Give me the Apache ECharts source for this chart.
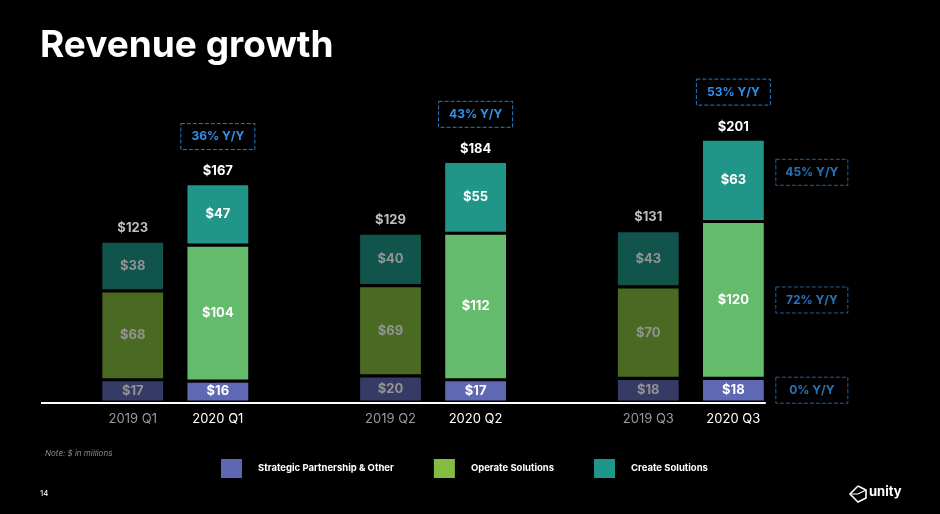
<!doctype html>
<html>
<head>
<meta charset="UTF-8">
<title>Revenue growth</title>
<script src="https://cdn.jsdelivr.net/npm/echarts@6/dist/echarts.min.js"></script>
<style>
  html, body { margin: 0; padding: 0; background: #000; }
  #main { width: 940px; height: 514px; }
</style>
</head>
<body>
<div id="main"></div>
<script>
// quarters (one category per quarter, 2019 and 2020 side by side)
var quarters = ['Q1', 'Q2', 'Q3'];
var years = ['2019', '2020'];

// revenue, $ in millions
var strategic2019 = [17, 20, 18];
var operate2019 = [68, 69, 70];
var create2019 = [38, 40, 43];
var strategic2020 = [16, 17, 18];
var operate2020 = [104, 112, 120];
var create2020 = [47, 55, 63];

// growth callouts
var totalYoY = ['36%', '43%', '53%'];
var q3SegmentYoY = { strategic: '0%', operate: '72%', create: '45%' };

var names = ['Strategic Partnership & Other', 'Operate Solutions', 'Create Solutions'];
var legendColors = ['#5f66b3', '#82bd41', '#1e978a'];
var colors2019 = ['#363b66', '#4a6a24', '#11544c'];
var colors2020 = ['#5f68b4', '#64bb6b', '#1f9688'];

var FONT = 'Inter, Roboto, sans-serif';
var BLUE = '#3190ea';

function sum(i, a, b, c) { return a[i] + b[i] + c[i]; }

function segment(name, data, stack, color, labelColor) {
    return {
        name: name,
        type: 'bar',
        stack: stack,
        barWidth: 64,
        barGap: '33%',
        data: data,
        itemStyle: { color: color, borderColor: '#000', borderWidth: 1.6 },
        label: {
            show: true,
            position: 'inside',
            color: labelColor,
            fontFamily: FONT,
            fontWeight: 'bold',
            fontSize: 13,
            formatter: function (p) { return '$' + p.value; }
        },
        emphasis: { disabled: true }
    };
}

var boxStyle = {
    color: BLUE,
    fontFamily: FONT,
    fontWeight: 'bold',
    fontSize: 12,
    width: 74,
    height: 26,
    align: 'center',
    borderColor: '#2b7bc4',
    borderWidth: 1,
    borderType: 'dashed'
};

var myChart = echarts.init(document.getElementById('main'));

var series = [
    segment(names[0], strategic2019, '2019', colors2019[0], '#939393'),
    segment(names[1], operate2019, '2019', colors2019[1], '#939393'),
    segment(names[2], create2019, '2019', colors2019[2], '#939393'),
    {
        name: 'total2019', type: 'bar', stack: '2019', barWidth: 64, barGap: '33%',
        data: quarters.map(function () { return 0; }),
        itemStyle: { color: 'transparent', borderWidth: 0 },
        label: {
            show: true, position: 'top', distance: 7,
            color: '#bdbdbd', fontFamily: FONT, fontWeight: 'bold', fontSize: 13,
            formatter: function (p) { return '$' + sum(p.dataIndex, strategic2019, operate2019, create2019); }
        },
        emphasis: { disabled: true }
    },
    segment(names[0], strategic2020, '2020', colors2020[0], '#ffffff'),
    segment(names[1], operate2020, '2020', colors2020[1], '#ffffff'),
    segment(names[2], create2020, '2020', colors2020[2], '#ffffff'),
    {
        name: 'total2020', type: 'bar', stack: '2020', barWidth: 64, barGap: '33%',
        data: quarters.map(function () { return 0; }),
        itemStyle: { color: 'transparent', borderWidth: 0 },
        label: {
            show: true, position: 'top', distance: 16,
            formatter: function (p) {
                return '{box|' + totalYoY[p.dataIndex] + ' Y/Y}\n{tot|$' +
                    sum(p.dataIndex, strategic2020, operate2020, create2020) + '}';
            },
            rich: {
                box: boxStyle,
                tot: { color: '#fff', fontFamily: FONT, fontWeight: 'bold', fontSize: 13, lineHeight: 18, padding: [26, 0, 0, 0] }
            }
        },
        emphasis: { disabled: true }
    },
    {
        // Q3 2020 segment growth callouts, placed beside each segment
        name: 'q3yoy', type: 'scatter', symbolSize: 0, silent: true,
        data: [
            { value: [2, strategic2020[2] / 2], yoy: q3SegmentYoY.strategic },
            { value: [2, strategic2020[2] + operate2020[2] / 2], yoy: q3SegmentYoY.operate },
            { value: [2, strategic2020[2] + operate2020[2] + create2020[2] / 2], yoy: q3SegmentYoY.create, label: { offset: [121, -8] } }
        ],
        label: {
            show: true, position: 'inside', offset: [121, 0],
            formatter: function (p) { return '{box|' + p.data.yoy + ' Y/Y}'; },
            rich: { box: Object.assign({}, boxStyle, { width: 72 }) }
        }
    }
];

var option = {
    backgroundColor: '#000',
    animation: false,
    grid: { left: 46.4, right: 120.3, top: 75, bottom: 112 },
    xAxis: {
        type: 'category',
        data: quarters,
        axisLine: { show: false },
        axisTick: { show: false },
        axisLabel: {
            margin: 11,
            formatter: function (v) {
                return '{a|' + years[0] + ' ' + v + '}{b|' + years[1] + ' ' + v + '}';
            },
            rich: {
                a: { width: 85, align: 'center', color: '#9a9a9a', fontFamily: FONT, fontSize: 13 },
                b: { width: 85, align: 'center', color: '#ffffff', fontFamily: FONT, fontSize: 13 }
            }
        }
    },
    yAxis: { type: 'value', min: 0, max: 250, show: false, splitLine: { show: false } },
    legend: {
        left: 216,
        top: 454,
        itemWidth: 21,
        itemHeight: 19,
        itemGap: 40,
        icon: 'rect',
        selectedMode: false,
        textStyle: { color: '#fff', fontFamily: FONT, fontWeight: 'bold', fontSize: 9.5, padding: [0, 0, 0, 11] },
        data: names.map(function (n, i) { return { name: n, itemStyle: { color: legendColors[i], borderWidth: 0 } }; })
    },
    series: series
};

myChart.setOption(option);

// baseline, slide text and logo
var base = myChart.convertToPixel({ gridIndex: 0 }, [2, 0]);
myChart.setOption({
    graphic: [
        { type: 'text', left: 40, top: 27, style: { text: 'Revenue growth', fill: '#fff', font: 'bold 37px ' + FONT } },
        { type: 'line', z: 100, shape: { x1: 41, y1: base[1] + 1, x2: base[0] + 75, y2: base[1] + 1 }, style: { stroke: '#fff', lineWidth: 2 } },
        { type: 'text', left: 45, top: 450, style: { text: 'Note: $ in millions', fill: '#8a8a8a', font: 'italic 8px ' + FONT } },
        { type: 'text', left: 40, top: 490, style: { text: '14', fill: '#fff', font: '8px ' + FONT } },
        {
            type: 'polyline', shape: { points: [[858, 486], [866, 490], [866, 498], [858, 502], [850, 494], [858, 486]] },
            style: { stroke: '#fff', fill: 'none', lineWidth: 1.6 }
        },
        {
            type: 'polyline', shape: { points: [[850, 494], [858, 494], [866, 490]] },
            style: { stroke: '#fff', fill: 'none', lineWidth: 1.2 }
        },
        { type: 'text', left: 869, top: 486, style: { text: 'unity', fill: '#fff', font: 'bold 13px ' + FONT } }
    ]
});
</script>
</body>
</html>
